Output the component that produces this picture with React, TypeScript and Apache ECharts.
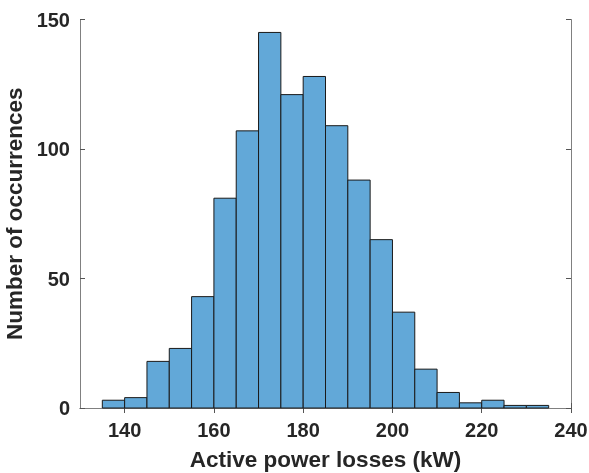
import React, { useEffect, useRef } from "react";
import * as echarts from "echarts";

const binStarts = [135, 140, 145, 150, 155, 160, 165, 170, 175, 180, 185, 190, 195, 200, 205, 210, 215, 220, 225, 230];
const binWidth = 5;
const counts = [3, 4, 18, 23, 43, 81, 107, 145, 121, 128, 109, 88, 65, 37, 15, 6, 2, 3, 1, 1];
const xTicks = [140, 160, 180, 200, 220, 240];
const yTicks = [0, 50, 100, 150];

export default function App() {
  const ref = useRef<HTMLDivElement>(null);
  useEffect(() => {
    if (!ref.current) return;
    const chart = echarts.init(ref.current, null, { renderer: "svg" });
    const data = binStarts.map((s, i) => [s, s + binWidth, counts[i]]);
    const font = "'Liberation Sans', Arial, sans-serif";
    const axisLine = { show: true, lineStyle: { color: "#808080", width: 1 } };
    const tickStyle = { show: true, inside: true, length: 5, lineStyle: { color: "#555", width: 1 } };
    chart.setOption({
      animation: false,
      grid: { left: 80, right: 18, top: 19.5, bottom: 65, containLabel: false, outerBoundsMode: "none" },
      xAxis: [
        {
          type: "value",
          min: 130,
          max: 240,
          position: "bottom",
          axisLine,
          axisTick: { ...tickStyle, customValues: xTicks },
          splitLine: { show: false },
          axisLabel: {
            customValues: xTicks,
            color: "#262626",
            fontSize: 20,
            fontWeight: "bold",
            fontFamily: font,
            margin: 12,
          },
          name: "Active power losses (kW)",
          nameLocation: "middle",
          nameGap: 40,
          nameTextStyle: { color: "#262626", fontSize: 22.5, fontWeight: "bold", fontFamily: font },
        },
        {
          type: "value",
          min: 130,
          max: 240,
          position: "top",
          axisLine,
          axisTick: { ...tickStyle, customValues: xTicks },
          axisLabel: { show: false },
          splitLine: { show: false },
        },
      ],
      yAxis: [
        {
          type: "value",
          min: 0,
          max: 150,
          position: "left",
          axisLine,
          axisTick: { ...tickStyle, customValues: yTicks },
          splitLine: { show: false },
          axisLabel: {
            customValues: yTicks,
            color: "#262626",
            fontSize: 20,
            fontWeight: "bold",
            fontFamily: font,
            margin: 10,
          },
          name: "Number of occurrences",
          nameLocation: "middle",
          nameGap: 46,
          nameTextStyle: { color: "#262626", fontSize: 22.5, fontWeight: "bold", fontFamily: font },
        },
        {
          type: "value",
          min: 0,
          max: 150,
          position: "right",
          axisLine,
          axisTick: { ...tickStyle, customValues: yTicks },
          axisLabel: { show: false },
          splitLine: { show: false },
        },
      ],
      series: [
        {
          type: "custom",
          xAxisIndex: 0,
          yAxisIndex: 0,
          data,
          renderItem: (params: any, api: any) => {
            const p0 = api.coord([api.value(0), api.value(2)]);
            const p1 = api.coord([api.value(1), 0]);
            return {
              type: "rect",
              shape: { x: p0[0], y: p0[1], width: p1[0] - p0[0], height: p1[1] - p0[1] },
              style: { fill: "#62a8d8", stroke: "#1a1a1a", lineWidth: 1 },
            };
          },
        },
      ],
    });
    return () => chart.dispose();
  }, []);
  return (
    <div
      ref={ref}
      style={{ position: "fixed", left: 0, top: 0, width: 589, height: 473 }}
    />
  );
}
